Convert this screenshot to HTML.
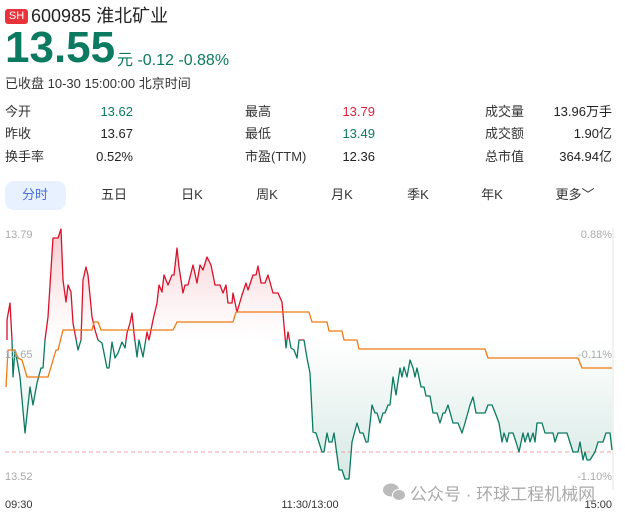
<!DOCTYPE html><html><head><meta charset="utf-8"><style>
body{margin:0;width:625px;height:518px;background:#fff;font-family:"Liberation Sans","Noto Sans CJK SC",sans-serif;color:#222;position:relative;overflow:hidden}
.a{position:absolute;white-space:nowrap;line-height:16px}
.l{font-size:13px;color:#333}
.v{font-size:13px;text-align:right}
.t{font-size:13px;color:#333;text-align:center;width:60px}
</style></head><body>
<div class="a" style="left:5px;top:9px;width:23px;height:15px;background:#e8323c;border-radius:3px;color:#fff;font-size:11px;line-height:15px;text-align:center">SH</div>
<div class="a" style="left:31px;top:6px;font-size:18px;line-height:20px;color:#222">600985 淮北矿业</div>
<div class="a" style="left:5px;top:26px;font-size:44px;line-height:44px;font-weight:bold;color:#0b7a60">13.55</div>
<div class="a" style="left:117px;top:52px;font-size:16px;line-height:18px;color:#0b7a60">元 -0.12 -0.88%</div>
<div class="a" style="left:5px;top:76px;font-size:13px;color:#333">已收盘 10-30 15:00:00 北京时间</div>
<div class="a l" style="left:5px;top:104px">今开</div><div class="a v" style="left:73px;top:104px;width:60px;color:#0b7a60">13.62</div>
<div class="a l" style="left:5px;top:126px">昨收</div><div class="a v" style="left:73px;top:126px;width:60px">13.67</div>
<div class="a l" style="left:5px;top:149px">换手率</div><div class="a v" style="left:73px;top:149px;width:60px">0.52%</div>
<div class="a l" style="left:245px;top:104px">最高</div><div class="a v" style="left:315px;top:104px;width:60px;color:#e0203a">13.79</div>
<div class="a l" style="left:245px;top:126px">最低</div><div class="a v" style="left:315px;top:126px;width:60px;color:#0b7a60">13.49</div>
<div class="a l" style="left:245px;top:149px">市盈(TTM)</div><div class="a v" style="left:315px;top:149px;width:60px">12.36</div>
<div class="a l" style="left:485px;top:104px">成交量</div><div class="a v" style="left:532px;top:104px;width:80px">13.96万手</div>
<div class="a l" style="left:485px;top:126px">成交额</div><div class="a v" style="left:532px;top:126px;width:80px">1.90亿</div>
<div class="a l" style="left:485px;top:149px">总市值</div><div class="a v" style="left:532px;top:149px;width:80px">364.94亿</div>
<div class="a" style="left:5px;top:181px;width:61px;height:29px;background:#e8f1ff;border-radius:9px"></div>
<div class="a t" style="left:5px;top:187px;color:#4a6ee0">分时</div>
<div class="a t" style="left:84px;top:187px">五日</div>
<div class="a t" style="left:162px;top:187px">日K</div>
<div class="a t" style="left:237px;top:187px">周K</div>
<div class="a t" style="left:312px;top:187px">月K</div>
<div class="a t" style="left:388px;top:187px">季K</div>
<div class="a t" style="left:462px;top:187px">年K</div>
<div class="a t" style="left:545px;top:187px">更多﹀</div>
<svg class="a" style="left:0;top:0;line-height:normal" width="625" height="518">
<defs>
<linearGradient id="gr" x1="0" y1="229" x2="0" y2="340" gradientUnits="userSpaceOnUse"><stop offset="0" stop-color="#f5c8cc"/><stop offset="1" stop-color="#fff" stop-opacity="0.6"/></linearGradient>
<linearGradient id="gg" x1="0" y1="340" x2="0" y2="480" gradientUnits="userSpaceOnUse"><stop offset="0" stop-color="#fff"/><stop offset="1" stop-color="#d6e9e4"/></linearGradient>
<clipPath id="top"><rect x="0" y="0" width="625" height="340"/></clipPath>
<clipPath id="bot"><rect x="0" y="340" width="625" height="200"/></clipPath>
<polygon id="pf" points="7,340 7,320 10,303 12,340 13,377 15,350 17,360 20,377 25,433 30,387 33,405 37,383 41,368 43,368 45,340 48,317 53,238 58,238 61,229 63,280 66,302 68,285 71,292 73,323 78,350 81,340 83,280 86,267 88,275 92,317 95,330 98,340 102,343 107,368 109,368 112,342 115,358 118,353 122,342 125,348 127,333 130,323 132,313 134,333 137,357 139,340 143,357 147,332 149,340 153,320 157,303 159,285 162,292 164,275 168,285 172,275 174,275 177,248 179,267 183,293 185,285 188,285 193,265 197,283 200,265 203,270 207,257 211,265 215,285 220,285 223,293 226,285 228,303 232,303 233,293 237,312 242,295 246,283 248,290 253,275 256,275 258,266 261,283 265,283 268,275 273,293 278,293 282,302 286,348 288,332 291,348 294,350 297,358 299,340 304,340 307,358 310,373 313,432 316,433 322,452 324,452 327,433 329,442 332,442 334,433 339,470 342,470 345,479 349,479 352,442 357,423 360,433 363,433 366,442 368,442 372,405 375,413 377,413 380,423 383,413 385,413 388,405 390,405 393,377 396,395 400,368 402,377 404,367 407,377 410,360 413,368 415,377 417,368 421,387 424,387 426,396 430,396 433,413 437,413 440,423 443,413 445,413 448,405 453,423 458,423 462,433 465,423 470,405 473,397 476,413 485,413 488,405 492,405 496,415 499,423 502,442 504,433 507,442 509,433 513,433 516,442 519,452 523,433 525,442 528,433 530,442 533,433 535,442 537,423 542,423 545,433 553,433 555,442 558,433 567,433 573,452 578,452 580,442 583,460 585,452 587,460 590,460 595,452 598,442 603,442 606,433 610,433 612,450 612,340"/>
<polyline id="pl" points="7,340 7,320 10,303 12,340 13,377 15,350 17,360 20,377 25,433 30,387 33,405 37,383 41,368 43,368 45,340 48,317 53,238 58,238 61,229 63,280 66,302 68,285 71,292 73,323 78,350 81,340 83,280 86,267 88,275 92,317 95,330 98,340 102,343 107,368 109,368 112,342 115,358 118,353 122,342 125,348 127,333 130,323 132,313 134,333 137,357 139,340 143,357 147,332 149,340 153,320 157,303 159,285 162,292 164,275 168,285 172,275 174,275 177,248 179,267 183,293 185,285 188,285 193,265 197,283 200,265 203,270 207,257 211,265 215,285 220,285 223,293 226,285 228,303 232,303 233,293 237,312 242,295 246,283 248,290 253,275 256,275 258,266 261,283 265,283 268,275 273,293 278,293 282,302 286,348 288,332 291,348 294,350 297,358 299,340 304,340 307,358 310,373 313,432 316,433 322,452 324,452 327,433 329,442 332,442 334,433 339,470 342,470 345,479 349,479 352,442 357,423 360,433 363,433 366,442 368,442 372,405 375,413 377,413 380,423 383,413 385,413 388,405 390,405 393,377 396,395 400,368 402,377 404,367 407,377 410,360 413,368 415,377 417,368 421,387 424,387 426,396 430,396 433,413 437,413 440,423 443,413 445,413 448,405 453,423 458,423 462,433 465,423 470,405 473,397 476,413 485,413 488,405 492,405 496,415 499,423 502,442 504,433 507,442 509,433 513,433 516,442 519,452 523,433 525,442 528,433 530,442 533,433 535,442 537,423 542,423 545,433 553,433 555,442 558,433 567,433 573,452 578,452 580,442 583,460 585,452 587,460 590,460 595,452 598,442 603,442 606,433 610,433 612,450"/>
</defs>
<line x1="613" y1="228" x2="613" y2="490" stroke="#e6e6e6"/>
<use href="#pf" fill="url(#gr)" clip-path="url(#top)"/>
<use href="#pf" fill="url(#gg)" clip-path="url(#bot)"/>
<line x1="5" y1="452" x2="613" y2="452" stroke="#f2a0a0" stroke-dasharray="4,3"/>
<g fill="none" stroke-width="1.3" stroke-linejoin="round">
<use href="#pl" stroke="#d9112b" clip-path="url(#top)"/>
<use href="#pl" stroke="#0b7a60" clip-path="url(#bot)"/>
<polyline stroke="#f07a10" points="6,387 8,350 15,350 18,358 22,360 27,377 48,377 56,350 58,350 63,330 92,330 94,322 98,322 101,330 173,330 177,322 233,322 236,312 309,312 312,322 327,322 329,331 342,331 344,340 357,340 359,349 485,349 488,358 578,358 582,368 612,368"/>
</g>
<g font-size="11" fill="#aaa" font-family="Liberation Sans,sans-serif">
<text x="5" y="238">13.79</text><text x="5" y="358">13.65</text><text x="5" y="480">13.52</text>
<text x="612" y="238" text-anchor="end">0.88%</text><text x="612" y="358" text-anchor="end">-0.11%</text><text x="612" y="480" text-anchor="end">-1.10%</text>
</g>
<g font-size="11" fill="#333" font-family="Liberation Sans,sans-serif">
<text x="5" y="508">09:30</text><text x="310" y="508" text-anchor="middle">11:30/13:00</text><text x="612" y="508" text-anchor="end">15:00</text>
</g>
<g fill="#bbb"><ellipse cx="391" cy="490" rx="8" ry="6.5"/><ellipse cx="399" cy="495" rx="6.5" ry="5.5" stroke="#fff"/></g>
<text x="410" y="500" font-size="17" fill="#aaa" font-family="Liberation Sans,Noto Sans CJK SC,sans-serif">公众号 · 环球工程机械网</text>
</svg>
</body></html>
